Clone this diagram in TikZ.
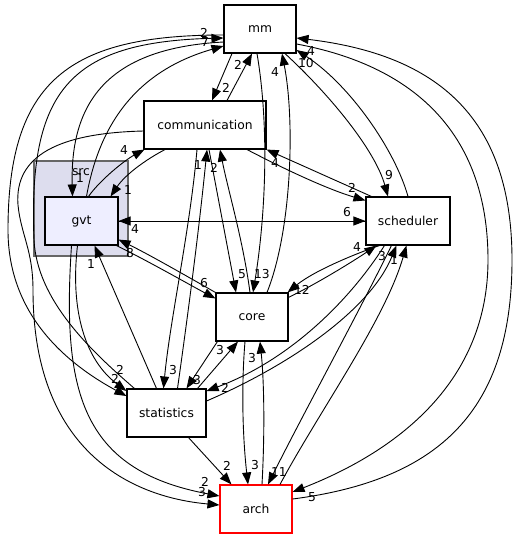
\documentclass[tikz,border=0pt]{standalone}
\usepackage{fontspec}
\setmainfont{DejaVu Sans}
\usetikzlibrary{arrows.meta}
\definecolor{srcfill}{HTML}{DDDDEE}
\definecolor{gvtfill}{HTML}{EEEEFF}

\begin{document}
\begin{tikzpicture}[x=1pt,y=-1pt,>={Triangle[length=12pt,width=9pt]},
    folder/.style={draw,line width=1.1pt,fill=white,minimum height=48pt,inner sep=0pt,font=\fontsize{12.3}{14}\selectfont},
    cnt/.style={inner sep=0pt,font=\fontsize{12.3}{14}\selectfont},
    dep/.style={->,line width=0.9pt}]
  \useasboundingbox (0,0) rectangle (518,539);
  \node[draw=black!60,line width=1.3pt,fill=srcfill,minimum width=94pt,minimum height=95pt] (src) at (81,208.5) {};
  \node[cnt] (srclabel) at (81,172) {src};

  \node[folder,minimum width=72pt]           (mm)    at (260,29)    {mm};
  \node[folder,minimum width=122pt]          (comm)  at (205,125)   {communication};
  \node[folder,fill=gvtfill,minimum width=73pt] (gvt) at (81.5,221) {gvt};
  \node[folder,minimum width=84pt]           (sched) at (408,221)   {scheduler};
  \node[folder,minimum width=72pt]           (core)  at (252,317)   {core};
  \node[folder,minimum width=79pt]           (stats) at (166.5,413) {statistics};
  \node[folder,draw=red,minimum width=72pt]  (arch)  at (256,509)   {arch};

  \draw[dep] ([xshift=-28]mm.south) -- ([xshift=7]comm.north);
  \node[cnt] (mm-comm) at (226,88) {2};
  \draw[dep] ([xshift=22]comm.north) -- ([xshift=-8]mm.south);
  \node[cnt] (comm-mm) at (238,65) {2};
  \draw[dep] ([yshift=-13]mm.west) .. controls (110,48) and (70,100) .. ([xshift=-9]gvt.north);
  \node[cnt] (mm-gvt) at (80,178) {1};
  \draw[dep] ([xshift=5]gvt.north) .. controls (100,120) and (140,70) .. ([yshift=-17]mm.west);
  \node[cnt] (gvt-mm) at (205,42) {7};
  \draw[dep] ([xshift=8]stats.north west) .. controls (90,350) and (37,300) .. (34,240)
    .. controls (28,90) and (70,42) .. ([yshift=-9]mm.west);
  \node[cnt] (stats-mm) at (204,33) {2};
  \draw[dep] ([yshift=-6]mm.west) .. controls (70,35) and (8,80) .. (8,230)
    .. controls (8,310) and (60,360) .. ([yshift=17]stats.west);
  \node[cnt] (mm-stats) at (115,379) {2};
  \draw[dep] ([xshift=25]mm.south) .. controls (330,95) and (375,150) .. ([xshift=-20]sched.north);
  \node[cnt] (mm-sched) at (389,175) {9};
  \draw[dep] (sched.north) .. controls (395,150) and (350,85) .. ([yshift=-21]mm.east);
  \node[cnt] (sched-mm) at (306,63) {10};
  \draw[dep] ([xshift=-3]mm.south) .. controls (270,130) and (265,220) .. ([xshift=1]core.north);
  \node[cnt] (mm-core) at (262,274) {13};
  \draw[dep] ([xshift=15]core.north) .. controls (292,230) and (295,120) .. ([xshift=22]mm.south);
  \node[cnt] (core-mm) at (275,72) {4};
  \draw[dep] ([yshift=-15]mm.east) .. controls (410,65) and (488,130) .. (488,260)
    .. controls (488,380) and (400,450) .. ([yshift=17]arch.east);
  \node[cnt] (mm-arch) at (312,497) {5};
  \draw[dep] ([yshift=10]arch.east) .. controls (440,480) and (512,410) .. (512,260)
    .. controls (512,120) and (440,55) .. ([yshift=-9]mm.east);
  \node[cnt] (arch-mm) at (311,51) {4};

  \draw[dep] ([xshift=-40]comm.south) .. controls (145,160) and (125,175) .. ([xshift=-8]gvt.north east);
  \node[cnt] (comm-gvt) at (128,190) {1};
  \draw[dep] ([xshift=7]gvt.north) .. controls (100,180) and (125,160) .. ([xshift=1]comm.south west);
  \node[cnt] (gvt-comm) at (124,150) {4};
  \draw[dep] ([xshift=42]comm.south) .. controls (290,172) and (330,190) .. ([yshift=-4]sched.north west);
  \node[cnt] (comm-sched) at (352,188) {2};
  \draw[dep] ([xshift=6]sched.north west) -- (comm.south east);
  \node[cnt] (sched-comm) at (275,163) {4};
  \draw[dep] ([xshift=4]comm.south) -- ([xshift=-16]core.north);
  \node[cnt] (comm-core) at (242,274) {5};
  \draw[dep] ([xshift=-2]core.north) .. controls (243,240) and (228,190) .. ([xshift=15]comm.south);
  \node[cnt] (core-comm) at (214,168) {2};
  \draw[dep] ([xshift=-8]comm.south) .. controls (190,230) and (170,320) .. ([xshift=-3]stats.north);
  \node[cnt] (comm-stats) at (173,370) {3};
  \draw[dep] ([xshift=11]stats.north) .. controls (190,300) and (200,220) .. ([xshift=2]comm.south);
  \node[cnt] (stats-comm) at (198,165) {1};
  \draw[dep] ([yshift=-6]comm.west) .. controls (60,133) and (14,155) .. (18,205)
    .. controls (21,235) and (33,250) .. (33,290)
    .. controls (33,450) and (130,497) .. ([yshift=4]arch.west);
  \node[cnt] (comm-arch) at (202,492) {3};

  \draw[dep] (gvt.east) -- (sched.west);
  \node[cnt] (gvt-sched) at (347,212) {6};
  \draw[dep] (sched.west) -- (gvt.east);
  \node[cnt] (sched-gvt) at (135,229) {4};
  \draw[dep] ([xshift=-2]gvt.south east) .. controls (150,262) and (190,285) .. ([yshift=-6]core.north west);
  \node[cnt] (gvt-core) at (204,283) {6};
  \draw[dep] (core.north west) .. controls (190,278) and (150,255) .. ([yshift=6]gvt.south east);
  \node[cnt] (core-gvt) at (130,253) {8};
  \draw[dep] ([xshift=-4]gvt.south) .. controls (70,310) and (85,360) .. ([yshift=22]stats.west);
  \node[cnt] (gvt-stats) at (120,370) {2};
  \draw[dep] ([xshift=-10]stats.north) -- ([xshift=13]gvt.south);
  \node[cnt] (stats-gvt) at (91,264) {1};
  \draw[dep] ([xshift=-10]gvt.south) .. controls (62,390) and (80,470) .. ([yshift=13]arch.west);
  \node[cnt] (gvt-arch) at (205,482) {2};

  \draw[dep] ([xshift=14]sched.south west) .. controls (360,252) and (315,270) .. ([xshift=-1]core.north east);
  \node[cnt] (sched-core) at (302,290) {12};
  \draw[dep] ([yshift=-5]core.north east) .. controls (320,282) and (355,260) .. ([xshift=11]sched.south west);
  \node[cnt] (core-sched) at (357,247) {4};
  \draw[dep] ([xshift=19]sched.south west) .. controls (350,300) and (290,360) .. ([yshift=22]stats.east);
  \node[cnt] (sched-stats) at (225,388) {2};
  \draw[dep] ([yshift=12]stats.east) .. controls (290,365) and (370,310) .. ([xshift=31]sched.south west);
  \node[cnt] (stats-sched) at (382,256) {3};
  \draw[dep] ([xshift=26]sched.south west) .. controls (360,310) and (300,420) .. ([xshift=12]arch.north);
  \node[cnt] (sched-arch) at (279,472) {11};
  \draw[dep] ([xshift=24]arch.north) .. controls (320,410) and (385,320) .. ([xshift=41]sched.south west);
  \node[cnt] (arch-sched) at (394,260) {1};

  \draw[dep] ([xshift=2]core.south west) -- ([xshift=20]stats.north);
  \node[cnt] (core-stats) at (197,380) {3};
  \draw[dep] ([xshift=31]stats.north) -- ([xshift=-14]core.south);
  \node[cnt] (stats-core) at (220,350) {3};
  \draw[dep] ([xshift=-7]core.south) .. controls (241,390) and (243,440) .. ([xshift=-8]arch.north);
  \node[cnt] (core-arch) at (255,465) {3};
  \draw[dep] ([xshift=6]arch.north) .. controls (265,430) and (264,380) .. ([xshift=8]core.south);
  \node[cnt] (arch-core) at (252,358) {3};
  \draw[dep] ([xshift=22]stats.south) -- ([xshift=12]arch.north west);
  \node[cnt] (stats-arch) at (227,466) {2};
\end{tikzpicture}
\end{document}
